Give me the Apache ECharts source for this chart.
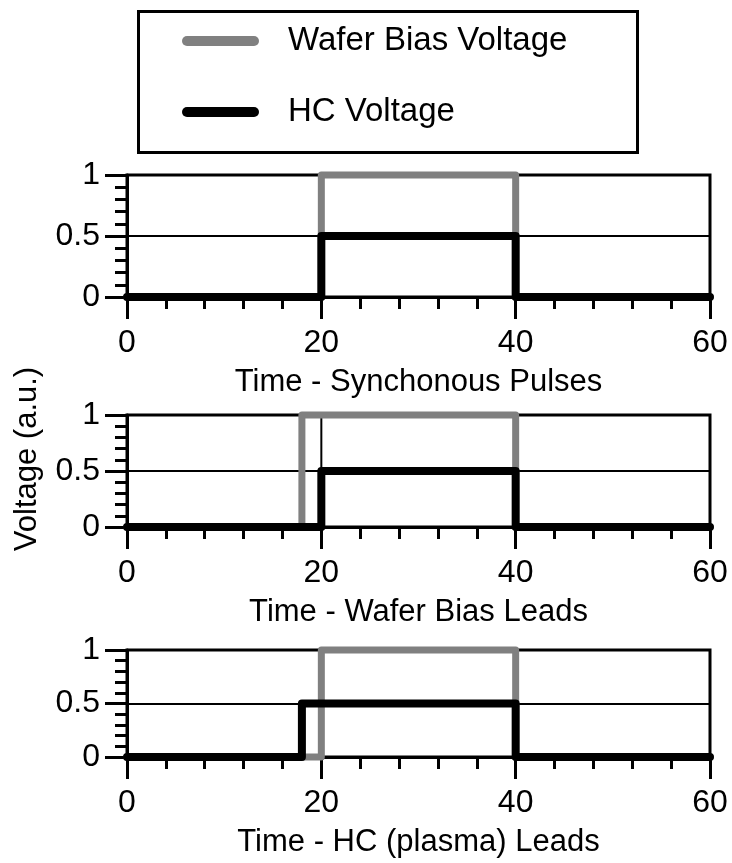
<!DOCTYPE html>
<html>
<head>
<meta charset="utf-8">
<script src="https://cdn.jsdelivr.net/npm/echarts@6/dist/echarts.min.js"></script>
<style>
html,body{margin:0;padding:0;background:#fff;}
#chart{width:732px;height:863px;}
</style>
</head>
<body>
<div id="chart"></div>
<script>
// ---- data ----
const seriesNames = ['Wafer Bias Voltage', 'HC Voltage'];
const panelTitles = ['Time - Synchonous Pulses', 'Time - Wafer Bias Leads', 'Time - HC (plasma) Leads'];
const xTicks = [0, 20, 40, 60];
const yTicks = [0, 0.5, 1];
// step points (value holds until next time)
const waferTimes = [[0, 20, 40, 60], [0, 18, 40, 60], [0, 20, 40, 60]];
const waferLevels = [[0, 1, 0, 0], [0, 1, 0, 0], [0, 1, 0, 0]];
const hcTimes = [[0, 20, 40, 60], [0, 20, 40, 60], [0, 18, 40, 60]];
const hcLevels = [[0, 0.5, 0, 0], [0, 0.5, 0, 0], [0, 0.5, 0, 0]];
// thin vertical marker in panel 2
const markerTimes = [20, 20];
const markerLevels = [0.5, 1];

// ---- layout ----
const FONT = "'Liberation Sans', Arial, sans-serif";
const FS = 31;
const TFS = 32;
const LFS = 33;
const grids = [
  {left: 127, top: 175, width: 583, height: 122},
  {left: 127, top: 415, width: 583, height: 112},
  {left: 127, top: 650, width: 583, height: 107}
];
const GRAY = '#808080';

function pairs(xs, ys) { return xs.map((x, i) => [x, ys[i]]); }

const xAxes = [], yAxes = [], series = [];
grids.forEach((g, i) => {
  xAxes.push({
    gridIndex: i, type: 'value', min: xTicks[0], max: xTicks[xTicks.length - 1], interval: 20,
    name: panelTitles[i], nameLocation: 'middle', nameGap: 70,
    nameTextStyle: {fontFamily: FONT, fontSize: FS, color: '#000'},
    axisLine: {show: true, onZero: false, lineStyle: {color: '#000', width: 3}},
    axisTick: {show: true, length: 22, lineStyle: {color: '#000', width: 3}},
    minorTick: {show: true, splitNumber: 5, length: 12, lineStyle: {color: '#000', width: 3}},
    axisLabel: {fontFamily: FONT, fontSize: TFS, color: '#000', margin: 30},
    splitLine: {show: false}
  });
  yAxes.push({
    gridIndex: i, type: 'value', min: yTicks[0], max: yTicks[yTicks.length - 1], interval: 0.5,
    axisLine: {show: true, onZero: false, lineStyle: {color: '#000', width: 3}},
    axisTick: {show: true, length: 22, lineStyle: {color: '#000', width: 3}},
    minorTick: {show: true, splitNumber: 5, length: 12, lineStyle: {color: '#000', width: 3}},
    axisLabel: {fontFamily: FONT, fontSize: TFS, color: '#000', margin: 27},
    splitLine: {show: true, lineStyle: {color: '#000', width: 2}}
  });
  series.push({
    name: seriesNames[0], type: 'line', xAxisIndex: i, yAxisIndex: i, step: 'end',
    data: pairs(waferTimes[i], waferLevels[i]), showSymbol: false, symbol: 'none', clip: false,
    color: GRAY, lineStyle: {color: GRAY, width: 7, cap: 'round', join: 'round'}, z: 3, animation: false
  });
  series.push({
    name: seriesNames[1], type: 'line', xAxisIndex: i, yAxisIndex: i, step: 'end',
    data: pairs(hcTimes[i], hcLevels[i]), showSymbol: false, symbol: 'none', clip: false,
    color: '#000', lineStyle: {color: '#000', width: 8, cap: 'round', join: 'round'}, z: 4, animation: false
  });
});
series.push({
  name: 'marker', type: 'line', xAxisIndex: 1, yAxisIndex: 1,
  data: pairs(markerTimes, markerLevels), showSymbol: false, symbol: 'none',
  lineStyle: {color: '#000', width: 2}, z: 2, animation: false
});

const chart = echarts.init(document.getElementById('chart'), null, {renderer: 'canvas'});
chart.setOption({
  animation: false,
  backgroundColor: '#fff',
  grid: grids.map(g => Object.assign({show: true, borderColor: '#000', borderWidth: 3, backgroundColor: 'transparent'}, g)),
  xAxis: xAxes,
  yAxis: yAxes,
  series: series,
  legend: {
    data: seriesNames,
    orient: 'vertical',
    left: 182, top: 23,
    padding: 0,
    itemWidth: 77, itemHeight: 10, itemGap: 35,
    icon: 'path://M5,0H72A5,5,0,0,1,72,10H5A5,5,0,0,1,5,0Z',
    itemStyle: {borderWidth: 0},
    textStyle: {fontFamily: FONT, fontSize: LFS, color: '#000', lineHeight: 36, padding: [0, 0, 0, 24]},
    selectedMode: false
  },
  graphic: [
    {type: 'rect', left: 136, top: 9, shape: {width: 499, height: 141},
     style: {fill: 'none', stroke: '#000', lineWidth: 3}, z: 0},
    {type: 'text', x: 27, y: 459, rotation: Math.PI / 2,
     style: {text: 'Voltage (a.u.)', font: FS + 'px ' + FONT, fill: '#000', align: 'center', verticalAlign: 'middle'}}
  ]
});
</script>
</body>
</html>
